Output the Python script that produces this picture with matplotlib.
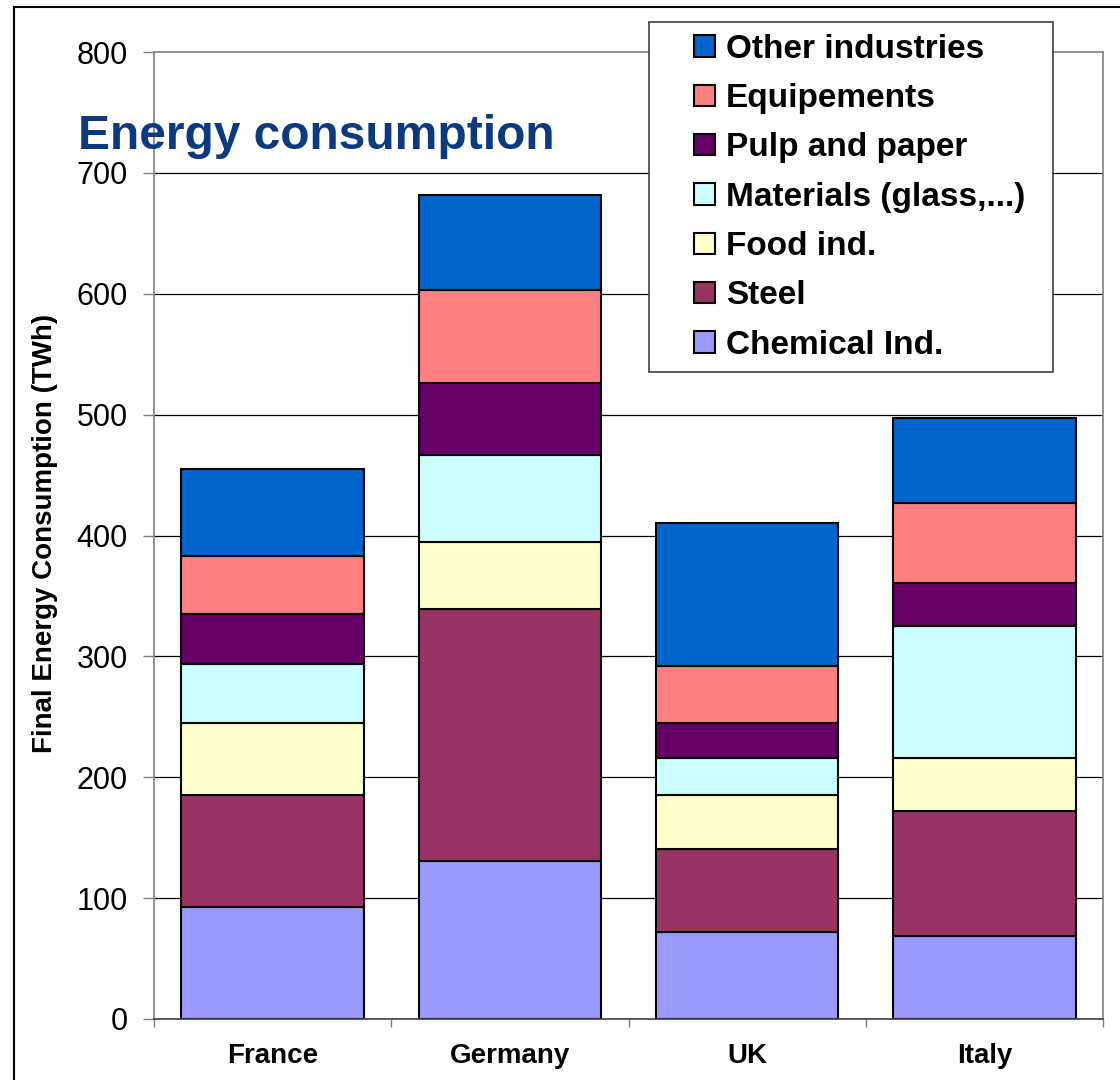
import matplotlib
matplotlib.use("Agg")
import numpy as np
import matplotlib.pyplot as plt
from matplotlib.patches import Rectangle
from matplotlib.legend_handler import HandlerPatch

plt.rcParams['font.family'] = ['Liberation Sans', 'DejaVu Sans']

countries = ["France", "Germany", "UK", "Italy"]
chemical = [93, 131, 72, 69]
steel = [92, 208, 69, 103]
food = [60, 56, 44, 44]
materials = [49, 72, 31, 109]
pulp = [41, 59, 29, 36]
equipements = [48, 77, 47, 66]
other = [72, 79, 118, 70]

series = [
    ("Chemical Ind.", chemical, "#9999FF"),
    ("Steel", steel, "#993366"),
    ("Food ind.", food, "#FFFFCC"),
    ("Materials (glass,...)", materials, "#CCFFFF"),
    ("Pulp and paper", pulp, "#660066"),
    ("Equipements", equipements, "#FF8080"),
    ("Other industries", other, "#0066CC"),
]

W, H = 1120, 1080
fig = plt.figure(figsize=(W / 100, H / 100), dpi=100)
ax = fig.add_axes([154 / W, 1 - 1019 / H, (1103 - 154) / W, (1019 - 52) / H])

x = np.arange(len(countries))
bottom = np.zeros(len(countries))
bars = []
for name, vals, col in series:
    b = ax.bar(x, vals, width=0.77, bottom=bottom, color=col,
               edgecolor="black", linewidth=1.5, label=name, zorder=2)
    bars.append(b)
    bottom += np.array(vals)

ax.set_xlim(-0.5, 3.5)
ax.set_ylim(0, 800)
yt = np.arange(0, 801, 100)
ax.set_yticks(yt)
for v in yt[1:-1]:
    ax.axhline(v, color="black", lw=0.9, zorder=0)

ax.set_xticks(x)
ax.set_xticklabels(countries, fontsize=20, fontweight="bold")
ax.set_xticks(np.arange(-0.5, 3.6, 1), minor=True)
ax.tick_params(axis="x", which="major", length=0, pad=17)
ax.tick_params(axis="x", which="minor", length=6, width=1, color="#808080")
ax.tick_params(axis="y", length=8, width=1, color="#808080", labelsize=22, pad=11)

for s in ["left", "top", "right"]:
    ax.spines[s].set_color("#808080")
    ax.spines[s].set_linewidth(1.2)
ax.spines["bottom"].set_color("#404040")
ax.spines["bottom"].set_linewidth(1.2)

# outer frame
fig.add_artist(Rectangle((14 / W, -0.1), 2, 1 - 7 / H + 0.1, transform=fig.transFigure,
                         fill=False, edgecolor="black", lw=1.5))

fig.text(78 / W, 1 - 149 / H, "Energy consumption", fontsize=34.5, fontweight="bold",
         color="#0B3A80", ha="left", va="baseline")
fig.text(45 / W, 1 - 533 / H, "Final Energy Consumption (TWh)", fontsize=20,
         fontweight="bold", rotation=90, ha="center", va="center")


class SquareHandler(HandlerPatch):
    def create_artists(self, legend, orig_handle, xdescent, ydescent, width, height,
                       fontsize, trans):
        s = height
        p = Rectangle((-xdescent + width - s, -ydescent), s, s,
                      facecolor=orig_handle.get_facecolor(), edgecolor="black",
                      lw=1.5, transform=trans)
        return [p]


handles = [b.patches[0] for b in bars][::-1]
labels = [s[0] for s in series][::-1]
leg = fig.legend(handles, labels, loc="upper left",
                 bbox_to_anchor=(649 / W, 1 - 373 / H, (1053 - 649) / W, (373 - 22) / H),
                 bbox_transform=fig.transFigure, mode="expand", borderaxespad=0,
                 prop={"size": 24, "weight": "bold"}, fancybox=False, framealpha=1,
                 edgecolor="#404040", borderpad=0.35, labelspacing=0.55,
                 handlelength=1.62, handleheight=0.6, handletextpad=0.33,
                 handler_map={Rectangle: SquareHandler()})
leg.get_frame().set_linewidth(1.2)

fig.savefig("out.png", dpi=100)
